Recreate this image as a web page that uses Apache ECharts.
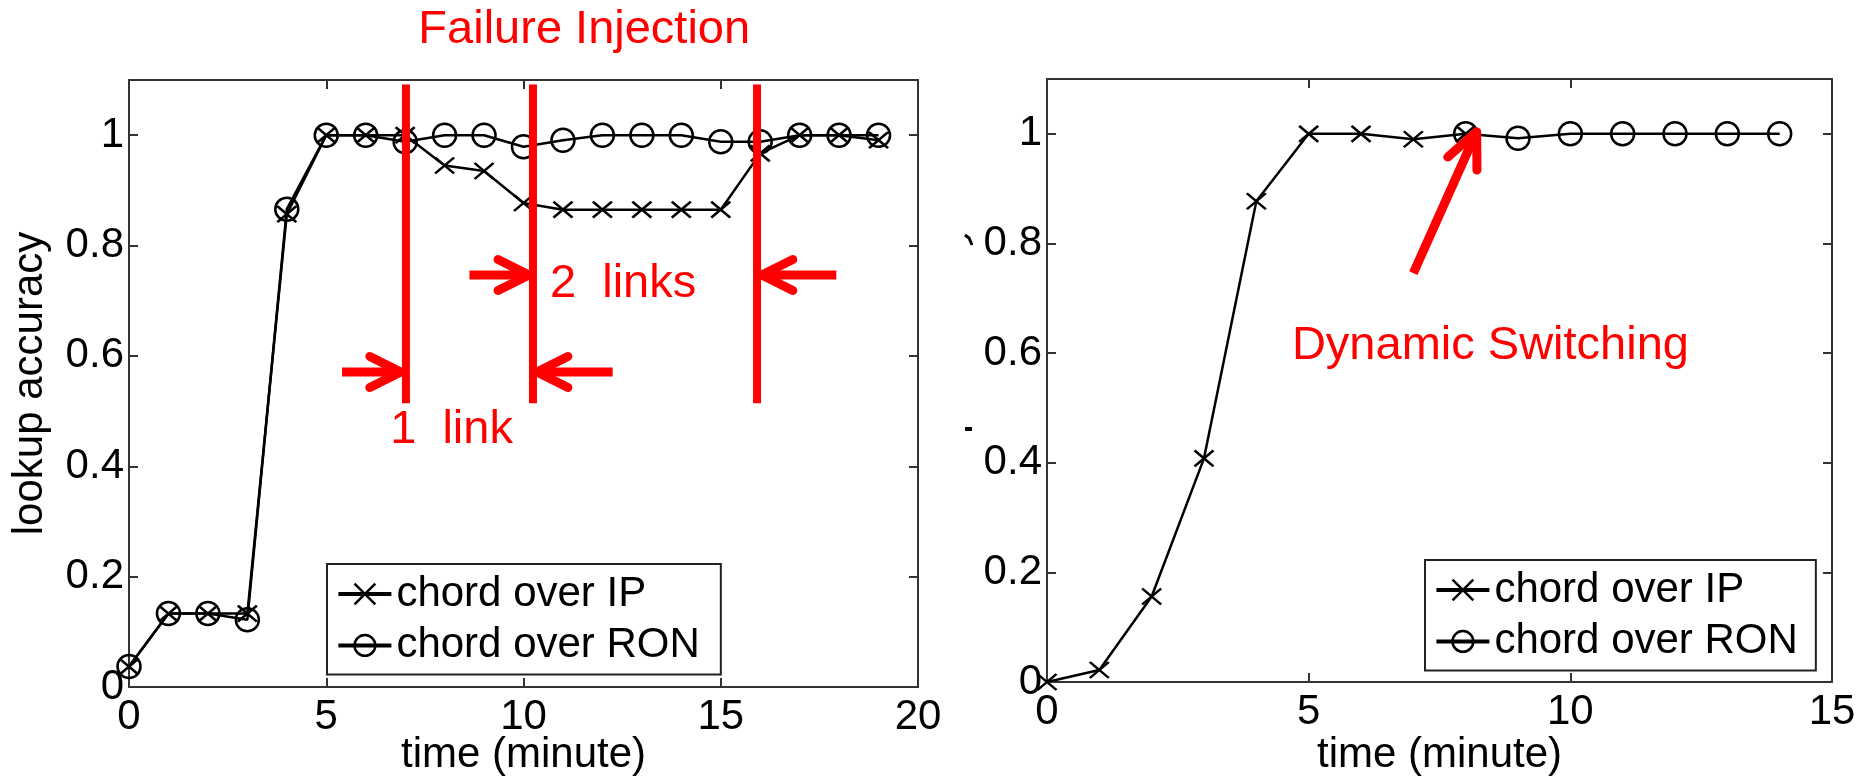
<!DOCTYPE html>
<html>
<head>
<meta charset="utf-8">
<script src="https://cdn.jsdelivr.net/npm/echarts@6/dist/echarts.min.js"></script>
<style>
html,body{margin:0;padding:0;background:#fff;}
#c{width:1872px;height:783px;}
</style>
</head>
<body>
<div id="c"></div>
<script>
// ---------- data ----------
const timeLeft = [0,1,2,3,4,5,6,7,8,9,10,11,12,13,14,15,16,17,18,19];
const ipLeft   = [0.037,0.133,0.133,0.133,0.857,1.0,1.0,1.0,0.945,0.935,0.877,0.865,0.865,0.865,0.865,0.865,0.967,1.0,1.0,0.991];
const ronLeft  = [0.037,0.133,0.133,0.122,0.866,1.0,1.0,0.988,1.0,1.0,0.979,0.991,1.0,1.0,1.0,0.988,0.988,1.0,1.0,1.0];

const timeRightIP  = [0,1,2,3,4,5,6,7,8];
const ipRight      = [0.0,0.022,0.156,0.408,0.877,1.0,1.0,0.99,1.0];
const timeRightRON = [8,9,10,11,12,13,14];
const ronRight     = [1.0,0.992,1.0,1.0,1.0,1.0,1.0];

const yTickLabels = ['0','0.2','0.4','0.6','0.8','1'];
const seriesNames = ['chord over IP','chord over RON'];

// annotation anchors in data units (minutes, accuracy)
const failureLinesX = [7.02, 10.24, 15.92];
const failureLineY  = [0.514, 1.092];
// [tailX, tipX, y]
const leftArrows = [[5.40,6.89,0.571],[12.26,10.34,0.571],[8.63,10.14,0.7465],[17.93,16.04,0.7465]];
const rightArrow = [[7.0,0.746],[8.21,1.004]];
const leftTexts = [
  {text:'Failure Injection', at:[11.54,1.190], align:'center'},
  {text:'1  link',  at:[6.62,0.466], align:'left'},
  {text:'2  links', at:[10.67,0.731], align:'left'}
];
const rightTexts = [{text:'Dynamic Switching', at:[4.68,0.612], align:'left'}];

// ---------- styling ----------
const FONT = 'Liberation Sans, Arial, Helvetica, sans-serif';
const AXIS_COLOR = '#333';
const RED = '#ff0000';
const crossPath = 'path://M0,0L20,16M20,0L0,16';

const chart = echarts.init(document.getElementById('c'), null, {renderer:'canvas'});
function zip(xs, ys){ return xs.map((x,i)=>[x, ys[i]]); }

function xAxisDef(grid, max, pos, withLabel, nameGap){
  const a = {
    gridIndex: grid, type:'value', min:0, max:max, interval:5, position:pos,
    axisLine:{show:true, onZero:false, lineStyle:{color:AXIS_COLOR, width:2}},
    axisTick:{show:true, inside:true, length:9, lineStyle:{color:AXIS_COLOR, width:2}},
    splitLine:{show:false},
    axisLabel:{show:withLabel, fontSize:42, color:'#000', margin:9, fontFamily:FONT}
  };
  if (withLabel){
    a.name = 'time (minute)'; a.nameLocation = 'middle'; a.nameGap = nameGap;
    a.nameMoveOverlap = false;
    a.nameTextStyle = {fontSize:42, color:'#000', fontFamily:FONT};
  }
  return a;
}
function yAxisDef(grid, pos, withLabel, name){
  const a = {
    gridIndex: grid, type:'value', min:0, max:1.1, interval:0.2, position:pos,
    axisLine:{show:true, onZero:false, lineStyle:{color:AXIS_COLOR, width:2}},
    axisTick:{show:true, inside:true, length:9, lineStyle:{color:AXIS_COLOR, width:2}},
    splitLine:{show:false},
    axisLabel:{show:withLabel, fontSize:42, color:'#000', margin:5, fontFamily:FONT, showMaxLabel:false,
      formatter:function(v){ const s = String(+v.toFixed(1)); return yTickLabels.indexOf(s) >= 0 ? s : ''; }}
  };
  if (name){
    a.name = name; a.nameLocation = 'middle'; a.nameRotate = 90; a.nameGap = 78;
    a.nameMoveOverlap = false;
    a.nameTextStyle = {fontSize:42, color:'#000', fontFamily:FONT};
  }
  return a;
}
function lineSeries(name, xi, yi, data, isCross){
  return {
    name: name, type:'line', xAxisIndex:xi, yAxisIndex:yi, data:data,
    symbol: isCross ? crossPath : 'circle', symbolSize: isCross ? [19,16] : 23,
    showAllSymbol: true, clip: false,
    lineStyle:{color:'#000', width:2.5},
    itemStyle:{color:'rgba(0,0,0,0)', borderColor:'#000', borderWidth:2.5},
    emphasis:{disabled:true}, animation:false, z: isCross ? 3 : 2
  };
}
function legendDef(left, top, padRight){
  return {
    show:true, orient:'vertical', left:left, top:top, data: seriesNames,
    itemWidth:53, itemHeight:26, itemGap:9.4, padding:[9, padRight, 8, 9.4],
    borderColor:'#222', borderWidth:2, backgroundColor:'#fff', selectedMode:false,
    textStyle:{fontSize:42, lineHeight:42, color:'#000', fontFamily:FONT, padding:0},
    itemStyle:{color:'rgba(0,0,0,0)', borderColor:'#000', borderWidth:2.5},
    lineStyle:{color:'#000', width:4}
  };
}

chart.setOption({
  backgroundColor:'#fff', animation:false, textStyle:{fontFamily:FONT},
  grid:[
    {left:129, top:80, width:789, height:607, outerBoundsMode:'none', containLabel:false},
    {left:1047, top:79, width:785, height:603, outerBoundsMode:'none', containLabel:false}
  ],
  xAxis:[ xAxisDef(0,20,'bottom',true,47), xAxisDef(0,20,'top',false), xAxisDef(1,15,'bottom',true,52), xAxisDef(1,15,'top',false) ],
  yAxis:[ yAxisDef(0,'left',true,'lookup accuracy'), yAxisDef(0,'right',false), yAxisDef(1,'left',true), yAxisDef(1,'right',false) ],
  legend:[ legendDef(327,564,21), legendDef(1425,560,18) ],
  series:[
    lineSeries(seriesNames[1],0,0,zip(timeLeft,ronLeft),false),
    lineSeries(seriesNames[0],0,0,zip(timeLeft,ipLeft),true),
    lineSeries(seriesNames[0],2,2,zip(timeRightIP,ipRight),true),
    lineSeries(seriesNames[1],2,2,zip(timeRightRON,ronRight),false)
  ]
});

// ---------- annotations, positioned through the axes ----------
function toPx(side, p){
  const f = side === 0 ? {xAxisIndex:0, yAxisIndex:0} : {xAxisIndex:2, yAxisIndex:2};
  return chart.convertToPixel(f, p);
}
function arrowGraphics(tail, tip, headLen, headHalf){
  const dx = tail[0]-tip[0], dy = tail[1]-tip[1];
  const L = Math.sqrt(dx*dx+dy*dy);
  const ux = dx/L, uy = dy/L, nx = -uy, ny = ux;
  const w1 = [tip[0]+ux*headLen+nx*headHalf, tip[1]+uy*headLen+ny*headHalf];
  const w2 = [tip[0]+ux*headLen-nx*headHalf, tip[1]+uy*headLen-ny*headHalf];
  return [
    {type:'line', z:100, shape:{x1:tail[0], y1:tail[1], x2:tip[0]+ux*2, y2:tip[1]+uy*2}, style:{stroke:RED, lineWidth:9, lineCap:'butt'}},
    {type:'polyline', z:100, shape:{points:[w1, tip, w2]}, style:{stroke:RED, lineWidth:9, lineCap:'round', lineJoin:'round', fill:null}}
  ];
}
const g = [];
failureLinesX.forEach(function(x){
  const a = toPx(0, [x, failureLineY[0]]), b = toPx(0, [x, failureLineY[1]]);
  g.push({type:'line', z:100, shape:{x1:a[0], y1:a[1], x2:b[0], y2:b[1]}, style:{stroke:RED, lineWidth:8, lineCap:'butt'}});
});
leftArrows.forEach(function(ar){
  arrowGraphics(toPx(0,[ar[0],ar[2]]), toPx(0,[ar[1],ar[2]]), 31, 15.5).forEach(function(e){ g.push(e); });
});
arrowGraphics(toPx(1, rightArrow[0]), toPx(1, rightArrow[1]), 35, 16).forEach(function(e){ g.push(e); });
function addTexts(side, list){
  list.forEach(function(t){
    const p = toPx(side, t.at);
    g.push({type:'text', z:100, style:{text:t.text, x:p[0], y:p[1], fill:RED, fontSize:47, fontFamily:FONT, align:t.align, verticalAlign:'middle'}});
  });
}
addTexts(0, leftTexts);
addTexts(1, rightTexts);
// remnants of a clipped y-axis title on the right panel
g.push({type:'polyline', z:100, shape:{points:[[965,235],[969,238],[972,245]]}, style:{stroke:'#000', lineWidth:3, fill:null}});
g.push({type:'rect', z:100, shape:{x:965, y:427, width:7, height:4}, style:{fill:'#000'}});
chart.setOption({graphic:{elements:g}});
</script>
</body>
</html>
